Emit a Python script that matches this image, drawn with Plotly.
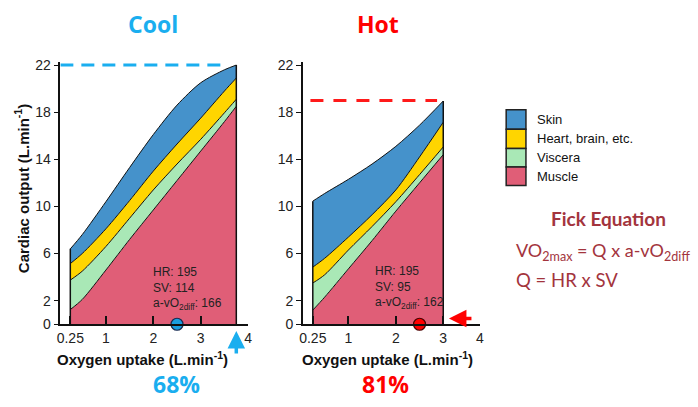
import plotly.graph_objects as go

W, H = 698, 407

# ---------------- data ----------------
regions = ["Muscle", "Viscera", "Heart, brain, etc.", "Skin"]
region_colors = ["#e05e77", "#a9e8b6", "#ffd500", "#4592cb"]
legend_order = ["Skin", "Heart, brain, etc.", "Viscera", "Muscle"]

# Cool condition: regional blood flow (L/min) vs oxygen uptake (L/min)
cool_x = [0.25, 0.5, 1, 1.5, 2, 2.5, 3, 3.5, 3.75]
cool_muscle = [1.25, 2.1, 4.6, 7.2, 9.7, 12.2, 14.7, 17.2, 18.5]
cool_viscera = [2.5, 2.4, 2.0, 1.8, 1.7, 1.4, 1.0, 0.75, 0.6]
cool_heart = [1.4, 1.5, 1.5, 1.5, 1.6, 1.7, 1.8, 1.85, 1.8]
cool_skin = [1.25, 1.6, 2.3, 2.8, 3.1, 3.3, 3.0, 1.8, 1.1]

# Hot condition
hot_x = [0.25, 0.5, 1, 1.5, 2, 2.5, 3]
hot_muscle = [1.2, 2.3, 4.7, 7.1, 9.6, 12.0, 14.4]
hot_viscera = [2.3, 1.9, 1.6, 1.2, 0.8, 0.7, 0.65]
hot_heart = [1.35, 1.4, 1.1, 1.0, 1.0, 1.5, 2.1]
hot_skin = [5.6, 5.5, 4.9, 4.3, 3.7, 2.7, 1.8]

cool_max_q = 22      # dashed line, L/min
hot_max_q = 19
cool_marker_x = 2.5
hot_marker_x = 2.5
cool_vo2max = 3.75
cool_stats = {"HR": 195, "SV": 114, "avo2": 166}
hot_stats = {"HR": 195, "SV": 95, "avo2": 162}
cool_pct = "68%"
hot_pct = "81%"

y_tickvals = [0, 2, 6, 10, 14, 18, 22]
x_ticktext = ["0.25", "1", "2", "3", "4"]
cool_x_tickvals = [0.25, 1, 2, 3, 4]
hot_x_tickvals = [0.25, 1, 2, 3, 3.77]   # last tick drawn at the shortened axis end

COOL_C = "#1aaeef"
HOT_C = "#ff0000"
FICK_C = "#a3343d"
ARIAL = "Liberation Sans, Arial, sans-serif"
CAL = "Open Sans, Lato, sans-serif"
LATO = "Lato, Open Sans, sans-serif"

fig = go.Figure()


def add_panel(xs, bands, xa, ya):
    for name, vals, col in zip(regions, bands, region_colors):
        fig.add_trace(go.Scatter(
            x=xs, y=vals, name=name, stackgroup="s" + xa, mode="lines",
            line=dict(color="#111111", width=1, shape="spline", smoothing=0.8),
            fillcolor=col, xaxis=xa, yaxis=ya, showlegend=False,
            hoverinfo="skip"))
    tot0 = sum(b[0] for b in bands)
    totN = sum(b[-1] for b in bands)
    fig.add_trace(go.Scatter(
        x=[xs[0], xs[0], None, xs[-1], xs[-1]], y=[0, tot0, None, 0, totN],
        mode="lines", line=dict(color="#111111", width=1.5),
        xaxis=xa, yaxis=ya, showlegend=False, hoverinfo="skip"))


add_panel(cool_x, [cool_muscle, cool_viscera, cool_heart, cool_skin], "x", "y")
add_panel(hot_x, [hot_muscle, hot_viscera, hot_heart, hot_skin], "x2", "y2")

# dashed max lines
fig.add_trace(go.Scatter(x=[0.04, 3.5], y=[cool_max_q, cool_max_q], mode="lines",
                         line=dict(color=COOL_C, width=3, dash="13px,8px"),
                         xaxis="x", yaxis="y", showlegend=False))
fig.add_trace(go.Scatter(x=[0.2, 2.87], y=[hot_max_q, hot_max_q], mode="lines",
                         line=dict(color="#ff1a1a", width=3, dash="13px,10px"),
                         xaxis="x2", yaxis="y2", showlegend=False))

# markers on x axis
fig.add_trace(go.Scatter(x=[cool_marker_x], y=[0], mode="markers", cliponaxis=False,
                         marker=dict(size=12, color="#1a9ee0", line=dict(color="#1a2a50", width=1.2)),
                         xaxis="x", yaxis="y", showlegend=False))
fig.add_trace(go.Scatter(x=[hot_marker_x], y=[0], mode="markers", cliponaxis=False,
                         marker=dict(size=12, color="#ff0000", line=dict(color="#4a0000", width=1.2)),
                         xaxis="x2", yaxis="y2", showlegend=False))

YR = [0, 22.3]
ypx0, ppu = 330, 12.14
ytop_px = ypx0 - YR[1] * ppu
ydom = [1 - ypx0 / H, 1 - ytop_px / H]

common_x = dict(showgrid=False, zeroline=False, showline=True, linecolor="#111",
                linewidth=2, ticks="inside", ticklen=8, tickwidth=2, tickcolor="#111",
                ticktext=x_ticktext, tickfont=dict(family=ARIAL, size=14, color="#222"))
common_y = dict(showgrid=False, zeroline=False, showline=True, linecolor="#111",
                linewidth=1.5, ticks="outside", ticklen=5, tickwidth=1, tickcolor="#111",
                tickvals=y_tickvals, range=YR, domain=ydom,
                tickfont=dict(family=ARIAL, size=14, color="#222"))

fig.update_layout(
    width=W, height=H, margin=dict(l=0, r=0, t=0, b=0),
    paper_bgcolor="white", plot_bgcolor="white",
    xaxis=dict(common_x, range=[0.04, 4.0], domain=[57 / W, 247 / W], tickvals=cool_x_tickvals, anchor="y"),
    xaxis2=dict(common_x, range=[0.04, 3.77], domain=[302.3 / W, 481.3 / W], tickvals=hot_x_tickvals, anchor="y2"),
    yaxis=dict(common_y, anchor="x"),
    yaxis2=dict(common_y, anchor="x2"),
)


def px(x):
    return x / W


def py(y):
    return 1 - y / H


ann = []


def txt(x, y, text, size, color="#111", bold=False, family=ARIAL, xanchor="center", angle=0):
    ann.append(dict(x=px(x), y=py(y), xref="paper", yref="paper", showarrow=False,
                    text=("<b>%s</b>" % text) if bold else text, textangle=angle,
                    font=dict(family=family, size=size, color=color),
                    xanchor=xanchor, yanchor="middle"))


txt(151, 21, "Cool", 23, COOL_C, True, CAL)
txt(378, 21, "Hot", 23, HOT_C, True, CAL)
txt(174, 392, cool_pct, 23, COOL_C, True, CAL)
txt(386, 392, hot_pct, 23, HOT_C, True, CAL)
txt(18, 190, "Cardiac output (L.min<sup>-1</sup>)", 15, "#111", True, angle=-90)
txt(140, 365, "Oxygen uptake (L.min<sup>-1</sup>)", 15, "#111", True)
txt(388, 365, "Oxygen uptake (L.min<sup>-1</sup>)", 15, "#111", True)

# stats text inside plots
for xa, ya, x0, y0, st in [("x", "y", 1.96, 3.05, cool_stats), ("x2", "y2", 1.51, 3.15, hot_stats)]:
    ann.append(dict(x=x0, y=y0, xref=xa, yref=ya, showarrow=False, xanchor="left", yanchor="middle",
                    align="left", font=dict(family=ARIAL, size=12, color="#222"),
                    text="HR: %d<br>SV: %d<br>a-vO<sub>2diff</sub>: %d" % (st["HR"], st["SV"], st["avo2"])))

# arrows
ann.append(dict(x=cool_vo2max, y=py(337), xref="x", yref="paper", ax=0, ay=24, text="", showarrow=True,
                arrowhead=2, arrowsize=1, arrowwidth=3.5, arrowcolor=COOL_C))
ann.append(dict(x=3.12, y=0.5, xref="x2", yref="y2", ax=24, ay=0, text="", showarrow=True,
                arrowhead=2, arrowsize=1, arrowwidth=3.5, arrowcolor=HOT_C))

# legend (custom)
shapes = []
tops = [109, 129, 149, 168, 187]
for i, name in enumerate(legend_order):
    col = region_colors[regions.index(name)]
    shapes.append(dict(type="rect", xref="paper", yref="paper", x0=px(508), x1=px(528),
                       y0=py(tops[i + 1]), y1=py(tops[i]), fillcolor=col,
                       line=dict(color="#222", width=1.5)))
    txt(537, (tops[i] + tops[i + 1]) / 2, name, 13, "#111", xanchor="left")

# Fick equation
txt(612, 221, "Fick Equation", 19, FICK_C, True, LATO)
txt(516, 255, "VO<sub>2max</sub> = Q x a-vO<sub>2diff</sub>", 18, FICK_C, False, LATO, xanchor="left")
txt(516, 284, "Q = HR x SV", 18.5, FICK_C, False, LATO, xanchor="left")

fig.update_layout(annotations=ann, shapes=shapes)
fig.write_html(
    "out.html",
    config={"displayModeBar": False},
    post_script=("document.documentElement.style.margin='0';document.body.style.margin='0';"
                 "document.body.style.overflow='hidden';document.documentElement.style.overflow='hidden';"),
)
